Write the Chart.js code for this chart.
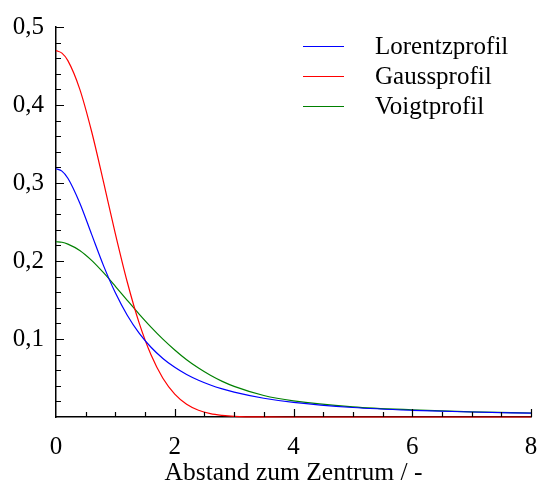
<!DOCTYPE html>
<html lang="de">
<head>
  <meta charset="UTF-8" />
  <title>Linienprofile</title>
  <script src="https://cdn.jsdelivr.net/npm/chart.js@4"></script>
  <style>
    html, body { margin: 0; padding: 0; background: white; }
    #wrap { width: 539px; height: 484px; }
  </style>
</head>
<body>
  <div id="wrap"><canvas id="profileChart" width="539" height="484"></canvas></div>

  <script>
    // Abstand zum Zentrum (gemeinsame Stützstellen)
    const abstand = [0, 0.1, 0.2, 0.4, 0.6, 0.8, 1.0, 1.2, 1.4, 1.6, 1.8, 2.0,
                     2.2, 2.4, 2.6, 2.8, 3.0, 3.5, 4, 5, 6, 7, 8];

    const lorentz = [0.3183, 0.3152, 0.3061, 0.2744, 0.2341, 0.1941, 0.1592, 0.1305,
                     0.1075, 0.0894, 0.0751, 0.0637, 0.0545, 0.0471, 0.0410, 0.0360,
                     0.0318, 0.0240, 0.0187, 0.0122, 0.0086, 0.0064, 0.0049];

    const gauss = [0.4697, 0.4665, 0.4569, 0.4204, 0.3660, 0.3014, 0.2349, 0.1731,
                   0.1207, 0.0797, 0.0497, 0.0294, 0.0164, 0.0087, 0.0043, 0.0021,
                   0.0009, 0.0001, 0, 0, 0, 0, 0];

    const voigt = [0.2247, 0.2240, 0.2217, 0.2135, 0.2008, 0.1850, 0.1676, 0.1496,
                   0.1319, 0.1152, 0.0998, 0.0859, 0.0734, 0.0627, 0.0535, 0.0457,
                   0.0393, 0.0276, 0.0207, 0.0131, 0.0092, 0.0066, 0.0051];

    const xTickLabels = [0, 2, 4, 6, 8];
    const yTickLabels = ['0,1', '0,2', '0,3', '0,4', '0,5'];

    const serif = "'Liberation Serif', 'Times New Roman', serif";

    const toPoints = ys => abstand.map((x, i) => ({ x, y: ys[i] }));

    // kleine Striche nach innen, lange an den beschrifteten Werten
    const innerTicks = {
      id: 'innerTicks',
      afterDraw(chart) {
        const { ctx, chartArea } = chart;
        const xs = chart.scales.x, ys = chart.scales.y;
        ctx.save();
        ctx.strokeStyle = '#000';
        ctx.lineWidth = 1.2;
        ctx.beginPath();
        xs.ticks.forEach(t => {
          if (t.value <= 0) return;
          const px = Math.round(xs.getPixelForValue(t.value)) + 0.5;
          const major = Math.abs(t.value / 2 - Math.round(t.value / 2)) < 1e-6;
          const len = major ? 8 : 5;
          ctx.moveTo(px, chartArea.bottom);
          ctx.lineTo(px, chartArea.bottom - len);
        });
        ys.ticks.forEach(t => {
          if (t.value <= 0) return;
          const py = Math.round(ys.getPixelForValue(t.value)) + 0.5;
          const i = Math.round(t.value / 0.02);
          const len = i % 5 === 0 ? 8 : 5;
          ctx.moveTo(chartArea.left, py);
          ctx.lineTo(chartArea.left + len, py);
        });
        ctx.stroke();
        ctx.restore();
      }
    };

    // Legende oben rechts im Diagramm
    const innerLegend = {
      id: 'innerLegend',
      afterDraw(chart) {
        const { ctx } = chart;
        ctx.save();
        ctx.font = '25px ' + serif;
        ctx.textBaseline = 'middle';
        ctx.textAlign = 'left';
        chart.data.datasets.forEach((ds, i) => {
          const y = 46 + i * 30 + 0.5;
          ctx.strokeStyle = ds.borderColor;
          ctx.lineWidth = 1.2;
          ctx.beginPath();
          ctx.moveTo(303, y);
          ctx.lineTo(344, y);
          ctx.stroke();
          ctx.fillStyle = '#000';
          ctx.fillText(ds.label, 375, y + 1);
        });
        ctx.restore();
      }
    };

    const ctx = document.getElementById('profileChart').getContext('2d');
    new Chart(ctx, {
      type: 'line',
      data: {
        datasets: [
          { label: 'Lorentzprofil', data: toPoints(lorentz), borderColor: '#0000ff' },
          { label: 'Gaussprofil', data: toPoints(gauss), borderColor: '#ff0000' },
          { label: 'Voigtprofil', data: toPoints(voigt), borderColor: '#008000' }
        ]
      },
      options: {
        responsive: false,
        animation: false,
        clip: false,
        elements: {
          line: { borderWidth: 1.2, cubicInterpolationMode: 'monotone', fill: false },
          point: { radius: 0 }
        },
        layout: { autoPadding: false, padding: { top: 25, right: 8, left: 0, bottom: 0 } },
        plugins: { legend: { display: false }, tooltip: { enabled: false } },
        scales: {
          x: {
            type: 'linear',
            min: 0, max: 8,
            grid: { display: false, drawTicks: false },
            border: { display: true, color: '#000', width: 1.5 },
            ticks: {
              stepSize: 0.5,
              autoSkip: false,
              maxRotation: 0,
              padding: 15,
              color: '#000',
              font: { family: serif, size: 25 },
              callback: v => xTickLabels.includes(v) ? String(v) : ''
            },
            title: {
              display: true,
              text: 'Abstand zum Zentrum / -',
              color: '#000',
              font: { family: serif, size: 25.5 },
              padding: { top: 0, bottom: -5 }
            },
            afterFit: s => {
              s.height = 67;
              // Randbeschriftung soll die Zeichenfläche nicht verkleinern
              s.paddingLeft = 0;
              s.paddingRight = 0;
            }
          },
          y: {
            min: 0, max: 0.5,
            grid: { display: false, drawTicks: false },
            border: { display: true, color: '#000', width: 1.5 },
            ticks: {
              stepSize: 0.02,
              autoSkip: false,
              padding: 12,
              color: '#000',
              font: { family: serif, size: 25 },
              callback: v => {
                const i = Math.round(v / 0.02);
                return (i > 0 && i % 5 === 0) ? yTickLabels[i / 5 - 1] : '';
              }
            },
            afterFit: s => { s.width = 56; }
          }
        }
      },
      plugins: [innerTicks, innerLegend]
    });
  </script>
</body>
</html>
